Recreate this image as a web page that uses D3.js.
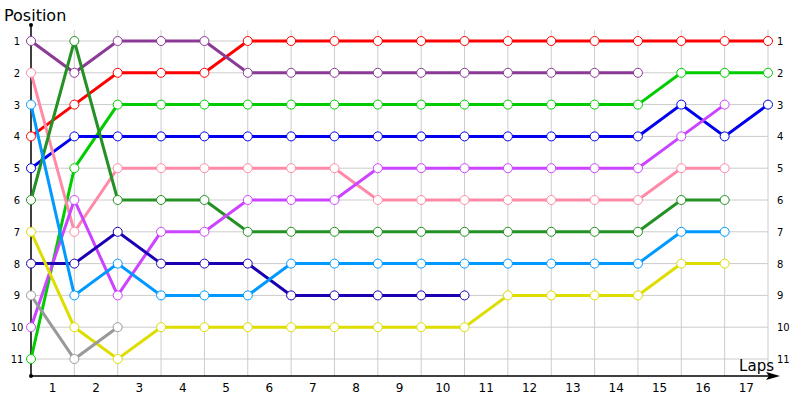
<!DOCTYPE html>
<html>
<head>
<meta charset="utf-8">
<script src="https://cdn.jsdelivr.net/npm/d3@7"></script>
<style>
  body { margin: 0; background: #fff; }
  svg { font-family: "DejaVu Sans", Verdana, sans-serif; }
  .grid line { stroke: #cccccc; stroke-width: 1; }
  .tick-y { font-size: 10px; fill: #000; }
  .tick-x { font-size: 12px; fill: #000; }
</style>
</head>
<body>
<svg width="800" height="400"></svg>
<script>
const laps = d3.range(0, 18)
const lapLabels = d3.range(1, 18)
const positions = d3.range(1, 12)

// position of each driver after each lap (index = lap, 0 = start)
const seriesNames = ["red", "purple", "green", "blue", "pink", "darkgreen", "violet", "navy", "skyblue", "yellow", "gray"]
const seriesColors = ["#ff0000", "#8b3a96", "#00cc00", "#0000ee", "#ff8aa8", "#239123", "#cc44ff", "#1a00b4", "#0099ff", "#dddd00", "#999999"]
const red       = [4, 3, 2, 2, 2, 1, 1, 1, 1, 1, 1, 1, 1, 1, 1, 1, 1, 1]
const purple    = [1, 2, 1, 1, 1, 2, 2, 2, 2, 2, 2, 2, 2, 2, 2]
const green     = [11, 5, 3, 3, 3, 3, 3, 3, 3, 3, 3, 3, 3, 3, 3, 2, 2, 2]
const blue      = [5, 4, 4, 4, 4, 4, 4, 4, 4, 4, 4, 4, 4, 4, 4, 3, 4, 3]
const pink      = [2, 7, 5, 5, 5, 5, 5, 5, 6, 6, 6, 6, 6, 6, 6, 5, 5]
const darkgreen = [6, 1, 6, 6, 6, 7, 7, 7, 7, 7, 7, 7, 7, 7, 7, 6, 6]
const violet    = [10, 6, 9, 7, 7, 6, 6, 6, 5, 5, 5, 5, 5, 5, 5, 4, 3]
const navy      = [8, 8, 7, 8, 8, 8, 9, 9, 9, 9, 9]
const skyblue   = [3, 9, 8, 9, 9, 9, 8, 8, 8, 8, 8, 8, 8, 8, 8, 7, 7]
const yellow    = [7, 10, 11, 10, 10, 10, 10, 10, 10, 10, 10, 9, 9, 9, 9, 8, 8]
const gray      = [9, 11, 10]
const seriesValues = [red, purple, green, blue, pink, darkgreen, violet, navy, skyblue, yellow, gray]

const svg = d3.select("svg")
const x = d3.scaleLinear().domain([0, 17]).range([31, 768])
const y = d3.scaleLinear().domain([1, 11]).range([41, 359])

// grid
const grid = svg.append("g").attr("class", "grid")
grid.selectAll("line.v")
  .data(lapLabels)
  .enter()
  .append("line")
  .attr("x1", d => x(d)).attr("x2", d => x(d))
  .attr("y1", 30).attr("y2", 376)
grid.selectAll("line.h")
  .data(positions)
  .enter()
  .append("line")
  .attr("x1", x(0)).attr("x2", x(17))
  .attr("y1", d => y(d)).attr("y2", d => y(d))

// axes
svg.append("line")
  .attr("x1", x(0)).attr("x2", x(0))
  .attr("y1", 25).attr("y2", 376)
  .attr("stroke", "#000").attr("stroke-width", 1.5)
svg.append("line")
  .attr("x1", x(0)).attr("x2", 770)
  .attr("y1", 376).attr("y2", 376)
  .attr("stroke", "#000").attr("stroke-width", 1.5)
svg.append("path")
  .attr("d", "M766,372 L780,376 L766,380 L769,376 Z")
  .attr("fill", "#000")
svg.append("circle").attr("cx", x(0)).attr("cy", 25).attr("r", 2).attr("fill", "#000")
svg.append("circle").attr("cx", x(0)).attr("cy", 376).attr("r", 2).attr("fill", "#000")

// axis titles
svg.append("text").attr("x", 4).attr("y", 21).attr("font-size", 16).text("Position")
svg.append("text").attr("x", 774).attr("y", 371).attr("font-size", 15).attr("text-anchor", "end").text("Laps")

// tick labels
svg.selectAll("text.ly")
  .data(positions)
  .enter()
  .append("text")
  .attr("class", "tick-y")
  .attr("x", 17).attr("y", d => y(d) + 4)
  .attr("text-anchor", "middle")
  .text(d => d)
svg.selectAll("text.ry")
  .data(positions)
  .enter()
  .append("text")
  .attr("class", "tick-y")
  .attr("x", 777).attr("y", d => y(d) + 4)
  .text(d => d)
svg.selectAll("text.lx")
  .data(lapLabels)
  .enter()
  .append("text")
  .attr("class", "tick-x")
  .attr("x", d => x(d - 0.5)).attr("y", 392)
  .attr("text-anchor", "middle")
  .text(d => d)

// series lines
const line = d3.line().x((d, i) => x(i)).y(d => y(d))
const groups = svg.selectAll("g.series")
  .data(seriesValues)
  .enter()
  .append("g")
  .attr("class", "series")

groups.append("path")
  .attr("d", d => line(d))
  .attr("fill", "none")
  .attr("stroke", (d, i) => seriesColors[i])
  .attr("stroke-width", 3)

groups.each(function (d, i) {
  d3.select(this).selectAll("circle")
    .data(d)
    .enter()
    .append("circle")
    .attr("cx", (v, j) => x(j))
    .attr("cy", v => y(v))
    .attr("r", 4.5)
    .attr("fill", "#fff")
    .attr("stroke", seriesColors[i])
    .attr("stroke-width", 1)
})
</script>
</body>
</html>
